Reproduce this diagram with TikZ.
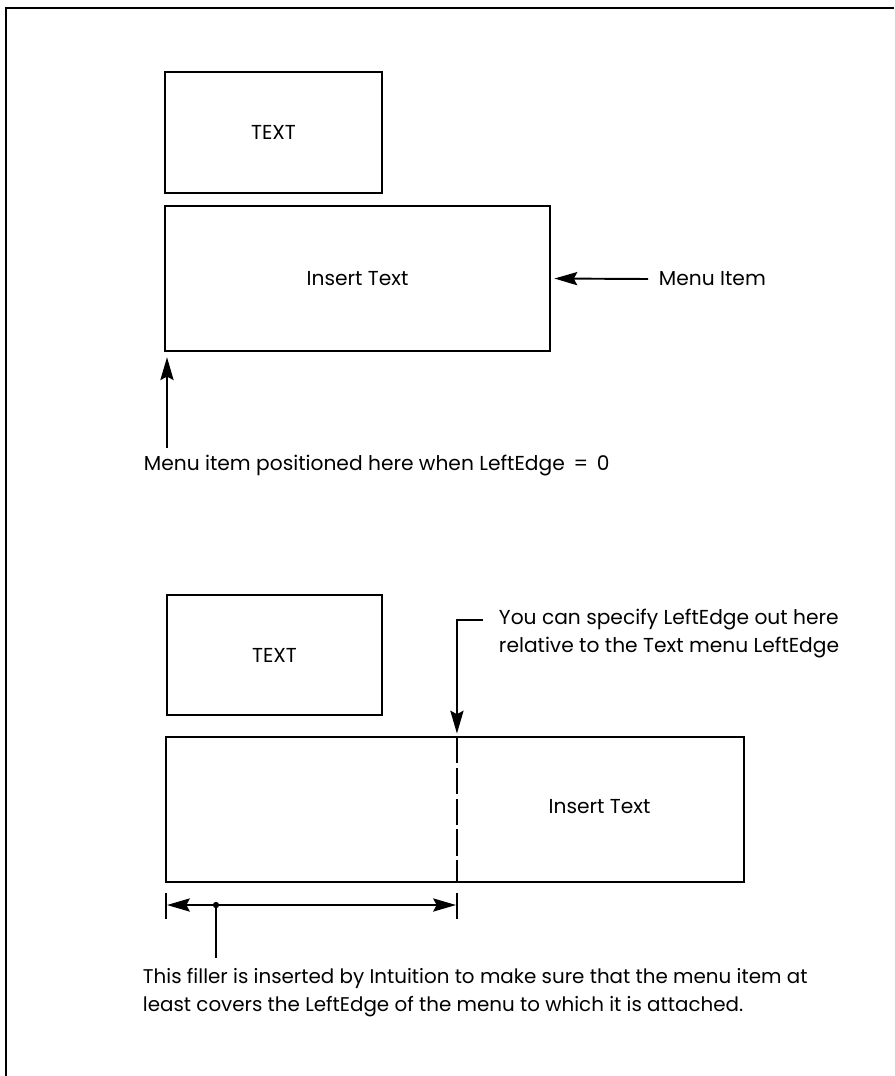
\documentclass[tikz,border=0pt]{standalone}
\usepackage{fontspec}
\setmainfont{Poppins}
\usetikzlibrary{arrows.meta}
\begin{document}
\begin{tikzpicture}[x=0.02cm,y=-0.02cm,
  line width=1.1pt,
  every node/.style={font=\fontsize{11.5}{16}\selectfont, inner sep=0pt},
  menubox/.style={draw, line width=1.1pt},
  tip/.style={-{Stealth[length=13pt,width=7.5pt,inset=2pt]}},
  twotip/.style={{Stealth[length=13pt,width=7.5pt,inset=2pt]}-{Stealth[length=13pt,width=7.5pt,inset=2pt]}},
  note/.style={align=left, anchor=north west}
]
\useasboundingbox (0,0) rectangle (894,1076);

% page frame: top rule and left rule only
\draw[line width=1.2pt] (894,8) -- (6,8) -- (6,1076);

% ---------- upper panel ----------
\node[menubox, minimum width=4.34cm, minimum height=2.42cm] (text1) at (273.5,132.5) {TEXT};
\node[menubox, minimum width=7.7cm, minimum height=2.9cm] (item1) at (357.5,278.5) {Insert Text};

\node[anchor=west] (milabel) at (658,279) {Menu Item};
\draw[tip, shorten >=2pt] ([xshift=-0.2cm]milabel.west) -- (item1.east);

\node[anchor=west] (cap1) at (143,465) {Menu item positioned here when LeftEdge \,=\, 0};
\coordinate (up1) at (167,448);
\draw[tip, shorten >=3pt] (up1) -- (up1 |- item1.south);

% ---------- lower panel ----------
\node[menubox, minimum width=4.3cm, minimum height=2.4cm] (text2) at (274.5,655) {TEXT};

% menu item with its filler on the left
\node[minimum width=5.78cm, minimum height=2.86cm] (filler) at (311.5,809.5) {};
\node[minimum width=5.74cm, minimum height=2.86cm] (item2) at (599.5,807) {Insert Text};
\draw[line width=1.1pt] (filler.north west) rectangle (filler.south west -| item2.east);
\draw[line width=1.1pt, dash pattern=on 15pt off 2.5pt] (filler.north east) -- (filler.south east);

\node[note] (cap2) at (498,608) {You can specify LeftEdge out here\\relative to the Text menu LeftEdge};
\coordinate (bend) at (483,620);
\draw[tip, shorten >=2pt] (bend) -- (bend -| filler.east) -- (filler.north east);

% filler width marker
\draw (filler.south west) ++(0,11) coordinate (tl) -- ++(0,26);
\draw (filler.south east) ++(0,11) coordinate (tr) -- ++(0,26);
\coordinate (dl) at (167,905);
\coordinate (dr) at (456,905);
\draw[twotip] (dl) -- (dr);
\coordinate (dot) at (216,905);
\coordinate (dotend) at (216,958);
\fill (dot) circle (1.8pt);
\draw (dot) -- (dotend);
\node[note, font=\fontsize{11.3}{16}\selectfont] (cap3) at (142,967) {This filler is inserted by Intuition to make sure that the menu item at\\least covers the LeftEdge of the menu to which it is attached.};
\end{tikzpicture}
\end{document}
